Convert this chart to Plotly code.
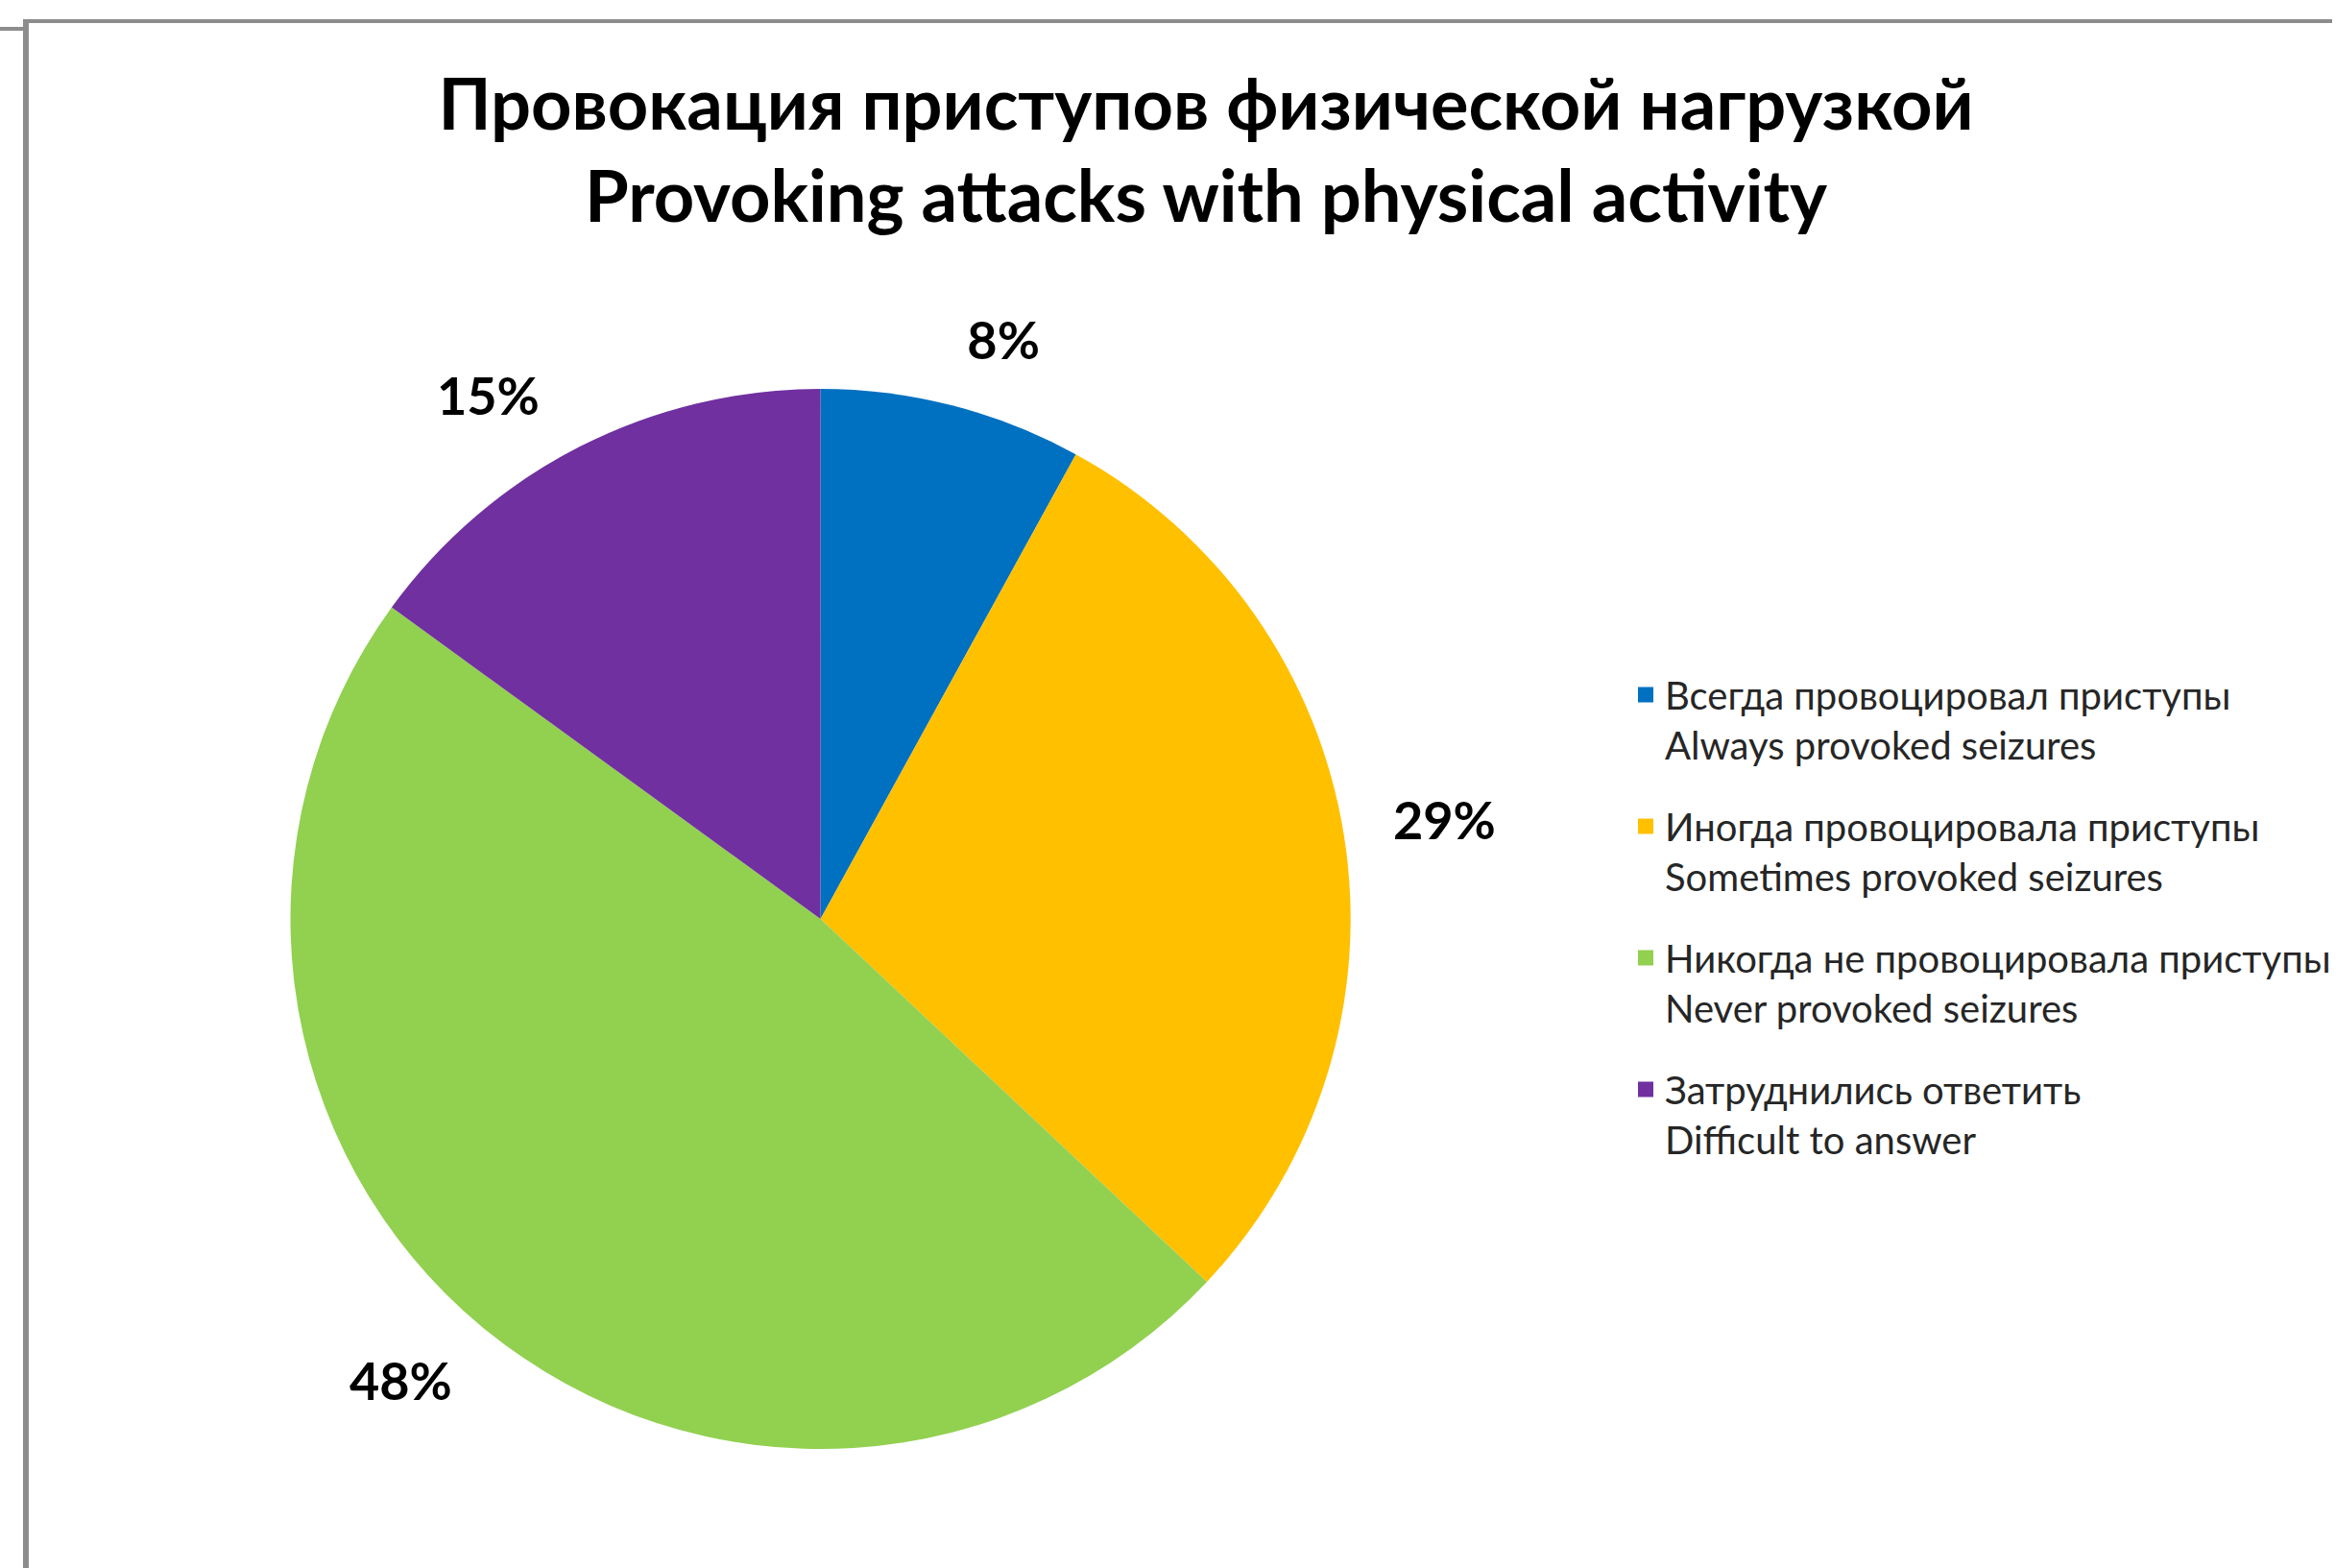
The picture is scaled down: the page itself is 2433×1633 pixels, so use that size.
import plotly.graph_objects as go

# ---- data ----
labels_ru = ["Всегда провоцировал приступы", "Иногда провоцировала приступы",
             "Никогда не провоцировала приступы", "Затруднились ответить"]
labels_en = ["Always provoked seizures", "Sometimes provoked seizures",
             "Never provoked seizures", "Difficult to answer"]
values = [8, 29, 48, 15]
colors = ["#0070C0", "#FFC000", "#92D050", "#7030A0"]
title_ru = "Провокация приступов физической нагрузкой"
title_en = "Provoking attacks with physical activity"

W, H = 2433, 1633
FONT = "Lato"

legend_labels = [f"{r}<br>{e}" for r, e in zip(labels_ru, labels_en)]

# pie geometry (pixels)
cx, cy, R = 856, 957, 553
RL = 590  # radius of label ring


def dom(r):
    return dict(x=[(cx - r) / W, (cx + r) / W], y=[1 - (cy + r) / H, 1 - (cy - r) / H])


fig = go.Figure()
# transparent ring that only carries the percentage labels
fig.add_trace(go.Pie(
    labels=legend_labels, values=values, sort=False, direction="clockwise", rotation=-1,
    domain=dom(RL), marker=dict(colors=["rgba(0,0,0,0)"] * 4, line=dict(width=0)),
    textinfo="text", text=[f"{v}%" for v in values], textposition="outside",
    outsidetextfont=dict(family=FONT, size=54, color="#000000", weight="bold"),
    showlegend=False, hoverinfo="skip",
))
# visible pie
fig.add_trace(go.Pie(
    labels=legend_labels, values=values, sort=False, direction="clockwise", rotation=0,
    domain=dom(R), marker=dict(colors=colors, line=dict(width=0)),
    textinfo="none", showlegend=False,
))
# legend entries (one per category)
for lab, col in zip(legend_labels, colors):
    fig.add_trace(go.Scatter(
        x=[None], y=[None], mode="markers", name=lab, legendgroup=lab,
        marker=dict(symbol="square", size=22, color=col), showlegend=True,
    ))


def px(x):
    return x / W


def py(y):
    return 1 - y / H


border = "#8c8c8c"
shapes = [
    dict(type="line", xref="paper", yref="paper", x0=px(0), x1=px(27), y0=py(30), y1=py(30),
         line=dict(color=border, width=4)),
    dict(type="line", xref="paper", yref="paper", x0=px(27), x1=px(27), y0=py(20), y1=py(H),
         line=dict(color=border, width=6)),
    dict(type="line", xref="paper", yref="paper", x0=px(25), x1=px(W), y0=py(22), y1=py(22),
         line=dict(color=border, width=4)),
]

fig.update_layout(
    width=W, height=H,
    margin=dict(l=0, r=0, t=0, b=0, pad=0),
    paper_bgcolor="white", plot_bgcolor="white",
    font=dict(family=FONT, color="#000000"),
    xaxis=dict(visible=False), yaxis=dict(visible=False),
    title=dict(text=f"{title_ru}<br>{title_en}", x=1256 / W, xanchor="center",
               y=py(135), yanchor="top", yref="container",
               font=dict(family=FONT, size=74, color="#000000", weight="bold")),
    legend=dict(x=px(1697), xanchor="left", y=py(691), yanchor="top",
                font=dict(family=FONT, size=40, color="#262626"),
                traceorder="grouped", tracegroupgap=30, valign="top",
                itemsizing="trace",
                bgcolor="rgba(0,0,0,0)", borderwidth=0),
    shapes=shapes,
)

fig.write_html("out.html")
